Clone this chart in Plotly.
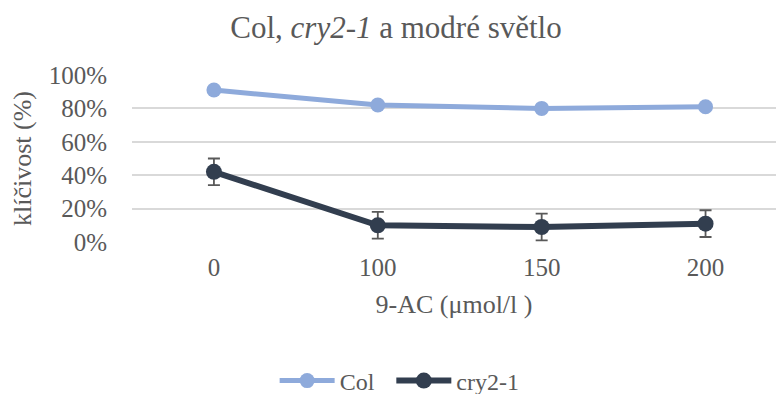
import plotly.graph_objects as go

categories = ["0", "100", "150", "200"]
col_values = [0.91, 0.82, 0.80, 0.81]
cry_values = [0.42, 0.10, 0.09, 0.11]
cry_errors = [0.08, 0.08, 0.08, 0.08]
y_ticks = [0, 0.2, 0.4, 0.6, 0.8, 1.0]
y_tick_labels = ["0%", "20%", "40%", "60%", "80%", "100%"]

font_family = "Liberation Serif"
text_color = "#595959"

fig = go.Figure()
fig.add_trace(go.Scatter(
    x=categories, y=col_values, name="Col\u00a0\u00a0", mode="lines+markers",
    line=dict(color="#8EAADB", width=5),
    marker=dict(color="#8EAADB", size=15),
))
fig.add_trace(go.Scatter(
    x=categories, y=cry_values, name="cry2-1", mode="lines+markers",
    line=dict(color="#323E4F", width=6),
    marker=dict(color="#323E4F", size=16),
    error_y=dict(type="data", array=cry_errors, visible=True,
                 color="#595959", thickness=1.8, width=6),
))

fig.update_layout(
    width=776, height=394,
    margin=dict(l=132, r=0, t=75, b=152, autoexpand=False),
    paper_bgcolor="white", plot_bgcolor="white",
    font=dict(family=font_family, color=text_color, size=24),
    title=dict(text="Col, <i>cry2-1</i> a modré světlo", x=396 / 776, xanchor="center",
               xref="container",
               y=1 - 27 / 394, yanchor="middle", yref="container",
               font=dict(size=31, color=text_color, family=font_family)),
    showlegend=True,
    legend=dict(orientation="h", x=0.515, xanchor="center", xref="container",
                y=1 - 381 / 394, yanchor="middle", yref="container",
                font=dict(size=24, color=text_color, family=font_family), itemwidth=55,
                bgcolor="rgba(0,0,0,0)"),
)
fig.update_xaxes(
    type="category", range=[-0.5, 3.43], showgrid=False, zeroline=False,
    showline=False, ticks="", tickfont=dict(size=25, family=font_family), automargin=False,
    ticklabelstandoff=8,
    title=dict(text="9-AC (μmol/l )", font=dict(size=26, family=font_family), standoff=14),
)
fig.update_yaxes(
    range=[0, 1.0], tickvals=y_ticks, ticktext=y_tick_labels,
    showgrid=True, gridcolor="#D9D9D9", gridwidth=1.5, zeroline=False,
    showline=False, ticks="", ticklabelstandoff=24, automargin=False,
    tickfont=dict(size=25, family=font_family),
    title=dict(text="klíčivost (%)", font=dict(size=26, family=font_family), standoff=9),
)

fig.write_html("out.html")
